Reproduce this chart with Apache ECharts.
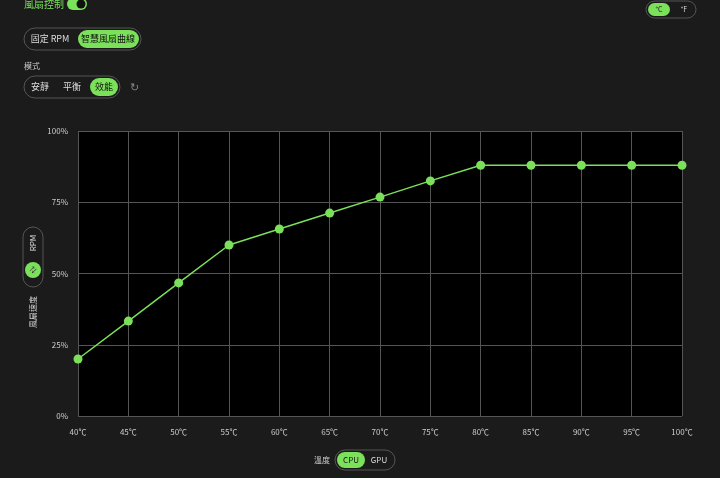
<!DOCTYPE html><html><head><meta charset="utf-8"><script src="https://cdn.jsdelivr.net/npm/echarts@6/dist/echarts.min.js"></script>
<style>html,body{margin:0;background:#1b1b1b;}#c{width:720px;height:478px;}</style></head><body><div id="c"></div><script>
var temps=['40℃','45℃','50℃','55℃','60℃','65℃','70℃','75℃','80℃','85℃','90℃','95℃','100℃'];
var speeds=[20,33.3,46.7,60,65.6,71.2,76.8,82.5,88,88,88,88,88];
var G='#7be05a',F='"Noto Sans CJK TC",sans-serif';
function pill(x,y,w,h,fill,stroke){return {type:'rect',shape:{x:x,y:y,width:w,height:h,r:h/2},style:{fill:fill||'none',stroke:stroke||null,lineWidth:1}};}
function txt(x,y,t,c,s,al,rot){return {type:'text',x:x,y:y,rotation:rot||0,style:{text:t,fill:c||'#ddd',font:(s||9)+'px '+F,align:al||'center',verticalAlign:'middle'}};}
var ch=echarts.init(document.getElementById('c'));
ch.setOption({backgroundColor:'#1b1b1b',
grid:{left:78,right:38,top:131,bottom:62,backgroundColor:'#000',show:true,borderWidth:0},
xAxis:{type:'category',data:temps,boundaryGap:false,axisLine:{show:false},axisTick:{show:false},
 axisLabel:{color:'#ccc',fontSize:8,fontFamily:F,margin:12},splitLine:{show:true,lineStyle:{color:'#555'}}},
yAxis:{type:'value',min:0,max:100,interval:25,axisLine:{show:false},axisTick:{show:false},
 axisLabel:{color:'#ccc',fontSize:8,fontFamily:F,formatter:'{value}%',margin:10},splitLine:{lineStyle:{color:'#555'}}},
series:[{type:'line',data:speeds,symbol:'circle',symbolSize:9,itemStyle:{color:G},lineStyle:{color:G,width:1.5}}],
graphic:[
 txt(24,4,'風扇控制',G,10,'left'),
 pill(67,-2,20,12,G),{type:'circle',shape:{cx:81,cy:4,r:4.5},style:{fill:'#111'}},
 pill(24,28,117,22,'#1b1b1b','#555'),txt(50,39,'固定 RPM','#ddd',9),pill(78,30,61,18,G),txt(108,39,'智慧風扇曲線','#111',9),
 txt(24,66,'模式','#ccc',8,'left'),
 pill(24,76,96,22,'#1b1b1b','#555'),txt(40,87,'安靜','#ddd',9),txt(72,87,'平衡','#ddd',9),pill(90,78,28,18,G),txt(104,87,'效能','#111',9),
 txt(134,87,'↻','#888',11),
 pill(646,1,50,17,'#1b1b1b','#555'),pill(648,3,22,13,G),txt(659,9.5,'°C','#111',7),txt(684,9.5,'°F','#ddd',7),
 pill(23,227,20,60,'#1b1b1b','#555'),txt(33,243,'RPM','#ddd',8,'center',Math.PI/2),
 {type:'circle',shape:{cx:33,cy:270,r:8},style:{fill:G}},txt(33,270,'⇄','#333',7,'center',Math.PI/4),
 txt(33,312,'風扇速度','#ccc',8,'center',Math.PI/2),
 txt(322,460,'溫度','#ccc',8),
 pill(335,450,60,20,'#1b1b1b','#555'),pill(337,452,28,16,G),txt(351,460,'CPU','#111',8),txt(379,460,'GPU','#ddd',8)
]});
</script></body></html>
